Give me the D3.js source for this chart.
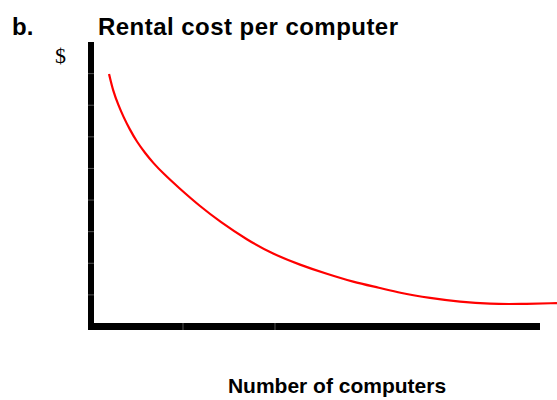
<!DOCTYPE html>
<html>
<head>
<meta charset="utf-8">
<script src="https://cdn.jsdelivr.net/npm/d3@7"></script>
<style>
  body { margin: 0; background: #fff; }
  svg { display: block; }
</style>
</head>
<body>
<div id="chart"></div>
<script>
// number of computers (arbitrary units) and rental cost per computer (arbitrary units)
var computers = [0.196, 0.242, 0.297, 0.351, 0.424, 0.497, 0.587, 0.677, 0.786, 0.949, 1.185, 1.402, 1.696, 1.978, 2.272, 2.565, 2.848, 3.141, 3.359, 3.685, 4.011, 4.337, 4.663, 5.065];
var costPerComputer = [7.99, 7.43, 7.01, 6.64, 6.22, 5.85, 5.49, 5.17, 4.84, 4.40, 3.80, 3.32, 2.74, 2.29, 1.95, 1.66, 1.41, 1.22, 1.06, 0.90, 0.78, 0.71, 0.71, 0.74];
var xTicks = [1, 2];
var yTicks = [1, 2, 3, 4, 5, 6, 7, 8];

var width = 557, height = 400;

var svg = d3.select("#chart").append("svg")
  .attr("width", width)
  .attr("height", height);

var x = d3.scaleLinear().domain([0, 5]).range([91, 551]);
var y = d3.scaleLinear().domain([0, 9]).range([326.5, 42]);

// vertical axis: thick black bar with faint ticks across it
svg.append("rect")
  .attr("x", 88).attr("y", y(9))
  .attr("width", 6).attr("height", 330 - y(9))
  .attr("fill", "#000");
svg.selectAll(".ytick").data(yTicks).enter().append("line")
  .attr("class", "ytick")
  .attr("x1", 88).attr("x2", 94)
  .attr("y1", function(d) { return y(d); })
  .attr("y2", function(d) { return y(d); })
  .attr("stroke", "#777").attr("stroke-width", 0.7);

// horizontal axis
svg.append("rect")
  .attr("x", 88).attr("y", 323)
  .attr("width", 540 - 88).attr("height", 7)
  .attr("fill", "#000");
svg.selectAll(".xtick").data(xTicks).enter().append("line")
  .attr("class", "xtick")
  .attr("x1", function(d) { return x(d); })
  .attr("x2", function(d) { return x(d); })
  .attr("y1", 323).attr("y2", 330)
  .attr("stroke", "#777").attr("stroke-width", 0.7);

// the cost curve
var pts = computers.map(function(c, i) { return [c, costPerComputer[i]]; });
var line = d3.line()
  .x(function(d) { return x(d[0]); })
  .y(function(d) { return y(d[1]); })
  .curve(d3.curveBasis);
svg.append("path")
  .datum(pts)
  .attr("d", line)
  .attr("fill", "none")
  .attr("stroke", "#ff0000")
  .attr("stroke-width", 2.2);

// texts
svg.append("text")
  .attr("x", 12).attr("y", 35)
  .attr("font-family", "Liberation Sans, Arial, sans-serif")
  .attr("font-weight", "bold").attr("font-size", 24)
  .text("b.");
svg.append("text")
  .attr("x", 98).attr("y", 35)
  .attr("font-family", "Liberation Sans, Arial, sans-serif")
  .attr("font-weight", "bold").attr("font-size", 24)
  .attr("textLength", 300)
  .text("Rental cost per computer");
svg.append("text")
  .attr("x", 55).attr("y", 63)
  .attr("font-family", "Liberation Serif, Times New Roman, serif")
  .attr("font-size", 22)
  .text("$");
svg.append("text")
  .attr("x", 337).attr("y", 393)
  .attr("text-anchor", "middle")
  .attr("font-family", "Liberation Sans, Arial, sans-serif")
  .attr("font-weight", "bold").attr("font-size", 21)
  .text("Number of computers");
</script>
</body>
</html>
